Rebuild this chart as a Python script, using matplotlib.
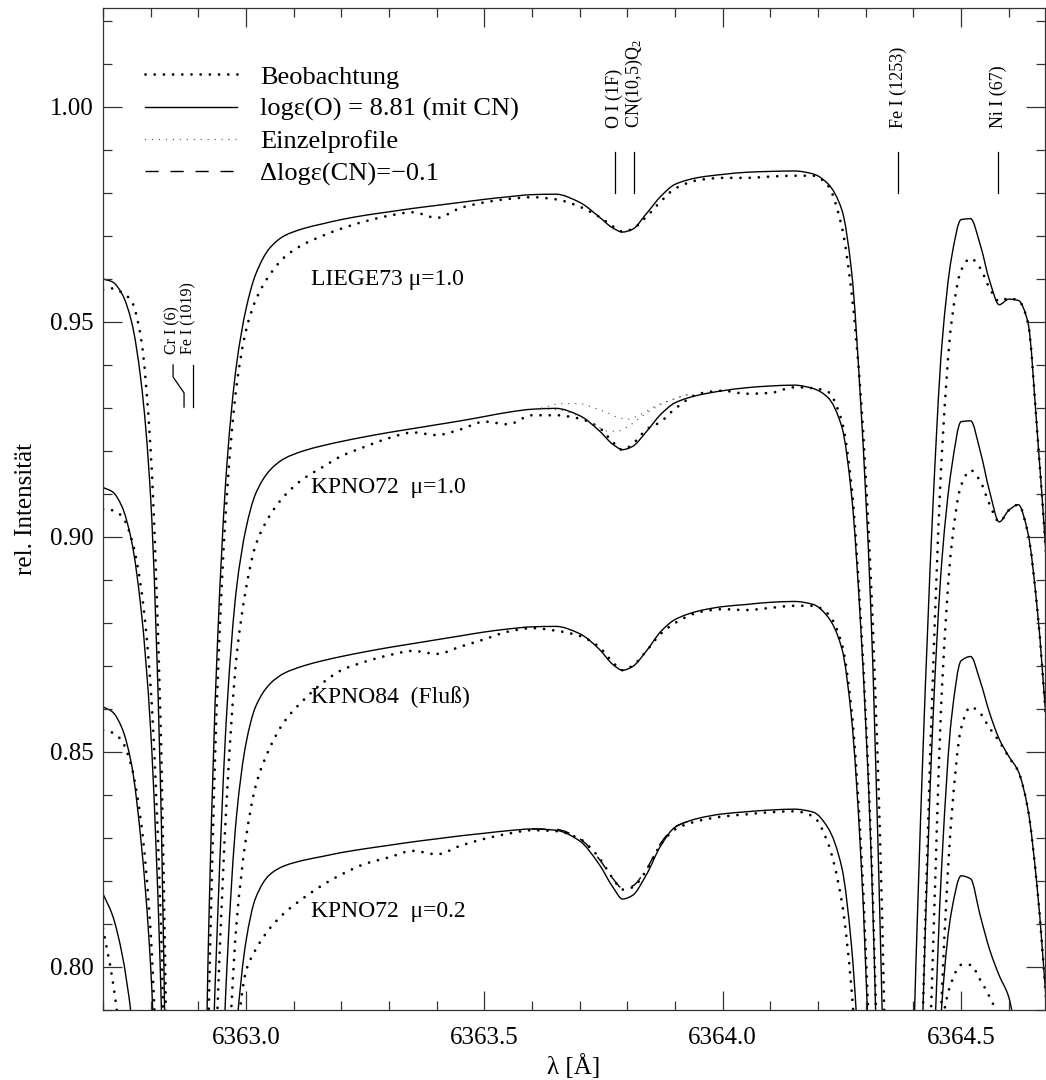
import matplotlib
matplotlib.use("Agg")
import numpy as np
import matplotlib.pyplot as plt
from matplotlib.path import Path
from matplotlib.patches import PathPatch
from matplotlib.lines import Line2D
from matplotlib.ticker import MultipleLocator, FormatStrFormatter

plt.rcParams['font.family'] = ['Liberation Serif', 'DejaVu Serif']
plt.rcParams['mathtext.fontset'] = 'custom'
plt.rcParams['mathtext.rm'] = 'Liberation Serif'
plt.rcParams['mathtext.it'] = 'Liberation Serif:italic'

# wavelength grid shared by all spectra [Angstrom]
wl = [6362.70, 6362.72, 6362.74, 6362.76, 6362.78, 6362.80, 6362.82, 6362.84,
      6362.87, 6362.90, 6362.92, 6362.94, 6362.96, 6362.98, 6363.00, 6363.02,
      6363.05, 6363.08, 6363.12, 6363.16, 6363.20, 6363.25, 6363.30, 6363.35,
      6363.40, 6363.45, 6363.50, 6363.55, 6363.60, 6363.65, 6363.70, 6363.74,
      6363.77, 6363.79, 6363.81, 6363.84, 6363.87, 6363.90, 6363.95, 6364.00,
      6364.05, 6364.10, 6364.15, 6364.19, 6364.22, 6364.25, 6364.27, 6364.29,
      6364.31, 6364.33, 6364.35, 6364.37, 6364.40, 6364.42, 6364.44, 6364.46,
      6364.48, 6364.50, 6364.52, 6364.54, 6364.56, 6364.58, 6364.60, 6364.62,
      6364.64, 6364.66, 6364.68, 6364.70]

# LIEGE73, mu = 1.0
liege73_obs = [0.9575, 0.9578, 0.9568, 0.9548, 0.9460, 0.9200, 0.8600, 0.7400,
               0.6000, 0.6300, 0.7800, 0.8650, 0.9100, 0.9350, 0.9480, 0.9550,
               0.9610, 0.9650, 0.9680, 0.9700, 0.9717, 0.9734, 0.9747, 0.9755,
               0.9742, 0.9765, 0.9778, 0.9786, 0.9790, 0.9785, 0.9768, 0.9745,
               0.9722, 0.9710, 0.9716, 0.9745, 0.9780, 0.9810, 0.9830, 0.9835,
               0.9835, 0.9838, 0.9840, 0.9840, 0.9818, 0.9720, 0.9570, 0.9320,
               0.8920, 0.8300, 0.7300, 0.6200, 0.6800, 0.7900, 0.8650, 0.9200,
               0.9500, 0.9620, 0.9648, 0.9625, 0.9578, 0.9548, 0.9555, 0.9550,
               0.9500, 0.9240, 0.8930, 0.8600]
liege73_mod = [0.9600, 0.9593, 0.9565, 0.9500, 0.9360, 0.9090, 0.8450, 0.7200,
               0.6000, 0.6400, 0.8000, 0.8750, 0.9170, 0.9400, 0.9530, 0.9610,
               0.9672, 0.9700, 0.9717, 0.9728, 0.9738, 0.9748, 0.9756, 0.9764,
               0.9771, 0.9778, 0.9785, 0.9791, 0.9796, 0.9797, 0.9778, 0.9745,
               0.9718, 0.9709, 0.9715, 0.9752, 0.9792, 0.9820, 0.9836, 0.9843,
               0.9848, 0.9850, 0.9851, 0.9844, 0.9822, 0.9760, 0.9620, 0.9300,
               0.8850, 0.8100, 0.7100, 0.6200, 0.7800, 0.8500, 0.9050, 0.9450,
               0.9650, 0.9738, 0.9740, 0.9680, 0.9595, 0.9540, 0.9553, 0.9550,
               0.9500, 0.9240, 0.8930, 0.8600]

# KPNO72, mu = 1.0
kpno72_obs = [0.9065, 0.9062, 0.9048, 0.8995, 0.8880, 0.8650, 0.8150, 0.7200,
              0.6000, 0.6000, 0.7200, 0.7900, 0.8400, 0.8720, 0.8880, 0.8980,
              0.9050, 0.9095, 0.9135, 0.9162, 0.9188, 0.9210, 0.9230, 0.9243,
              0.9237, 0.9250, 0.9268, 0.9262, 0.9283, 0.9283, 0.9275, 0.9255,
              0.9220, 0.9202, 0.9215, 0.9250, 0.9268, 0.9298, 0.9333, 0.9340,
              0.9333, 0.9335, 0.9348, 0.9346, 0.9338, 0.9268, 0.9120, 0.8800,
              0.8320, 0.7550, 0.6700, 0.6000, 0.6500, 0.7300, 0.8000, 0.8650,
              0.8980, 0.9120, 0.9155, 0.9130, 0.9075, 0.9035, 0.9062, 0.9075,
              0.9010, 0.8830, 0.8550, 0.8250]
kpno72_mod = [0.9115, 0.9105, 0.9070, 0.8990, 0.8830, 0.8550, 0.8000, 0.7000,
              0.6000, 0.6200, 0.7400, 0.8100, 0.8600, 0.8880, 0.9020, 0.9100,
              0.9155, 0.9182, 0.9200, 0.9212, 0.9222, 0.9233, 0.9243, 0.9252,
              0.9261, 0.9270, 0.9280, 0.9290, 0.9297, 0.9299, 0.9282, 0.9248,
              0.9215, 0.9203, 0.9210, 0.9245, 0.9285, 0.9312, 0.9330, 0.9340,
              0.9347, 0.9351, 0.9353, 0.9345, 0.9325, 0.9255, 0.9100, 0.8780,
              0.8300, 0.7500, 0.6600, 0.6000, 0.7000, 0.7900, 0.8550, 0.8950,
              0.9160, 0.9268, 0.9270, 0.9200, 0.9105, 0.9035, 0.9062, 0.9075,
              0.9010, 0.8830, 0.8550, 0.8250]

# KPNO84, disk-integrated flux
kpno84_obs = [0.8550, 0.8545, 0.8525, 0.8465, 0.8335, 0.8080, 0.7500, 0.6600,
              0.6000, 0.6000, 0.6400, 0.7200, 0.7700, 0.8100, 0.8300, 0.8420,
              0.8510, 0.8570, 0.8620, 0.8660, 0.8690, 0.8710, 0.8725, 0.8735,
              0.8728, 0.8745, 0.8762, 0.8780, 0.8788, 0.8782, 0.8770, 0.8745,
              0.8708, 0.8690, 0.8700, 0.8735, 0.8775, 0.8800, 0.8825, 0.8832,
              0.8830, 0.8835, 0.8840, 0.8840, 0.8822, 0.8750, 0.8600, 0.8280,
              0.7750, 0.7050, 0.6200, 0.6000, 0.6000, 0.6600, 0.7300, 0.7950,
              0.8350, 0.8555, 0.8605, 0.8590, 0.8555, 0.8525, 0.8488, 0.8455,
              0.8368, 0.8180, 0.7900, 0.7600]
kpno84_mod = [0.8605, 0.8593, 0.8555, 0.8470, 0.8290, 0.8000, 0.7400, 0.6600,
              0.6000, 0.6000, 0.6600, 0.7400, 0.8000, 0.8350, 0.8520, 0.8605,
              0.8658, 0.8683, 0.8700, 0.8712, 0.8722, 0.8733, 0.8743, 0.8752,
              0.8761, 0.8770, 0.8779, 0.8786, 0.8791, 0.8792, 0.8775, 0.8740,
              0.8703, 0.8690, 0.8698, 0.8735, 0.8780, 0.8808, 0.8828, 0.8838,
              0.8843, 0.8848, 0.8850, 0.8843, 0.8815, 0.8740, 0.8580, 0.8250,
              0.7700, 0.7000, 0.6200, 0.6000, 0.6200, 0.7000, 0.7700, 0.8250,
              0.8580, 0.8712, 0.8722, 0.8665, 0.8590, 0.8530, 0.8490, 0.8455,
              0.8368, 0.8180, 0.7900, 0.7600]

# KPNO72, mu = 0.2
kpno72l_obs = [0.8090, 0.7970, 0.7800, 0.7600, 0.7300, 0.7000, 0.6500, 0.6000,
               0.6000, 0.6000, 0.6200, 0.6800, 0.7400, 0.7820, 0.7990, 0.8040,
               0.8090, 0.8125, 0.8160, 0.8190, 0.8215, 0.8240, 0.8255, 0.8270,
               0.8262, 0.8282, 0.8298, 0.8310, 0.8318, 0.8316, 0.8298, 0.8255,
               0.8205, 0.8180, 0.8185, 0.8225, 0.8285, 0.8320, 0.8340, 0.8350,
               0.8355, 0.8360, 0.8362, 0.8350, 0.8290, 0.8150, 0.7950, 0.7600,
               0.7200, 0.6600, 0.6000, 0.6000, 0.6000, 0.6200, 0.7000, 0.7860,
               0.7965, 0.8005, 0.8005, 0.7970, 0.7930, 0.7880, 0.7800, 0.7600,
               0.7400, 0.7200, 0.7000, 0.6700]
kpno72l_mod = [0.8170, 0.8120, 0.8030, 0.7880, 0.7600, 0.7200, 0.6600, 0.6000,
               0.6000, 0.6000, 0.6200, 0.6800, 0.7400, 0.7850, 0.8060, 0.8160,
               0.8215, 0.8235, 0.8248, 0.8257, 0.8266, 0.8275, 0.8283, 0.8291,
               0.8298, 0.8305, 0.8311, 0.8317, 0.8321, 0.8318, 0.8293, 0.8240,
               0.8185, 0.8158, 0.8166, 0.8215, 0.8282, 0.8325, 0.8346, 0.8356,
               0.8361, 0.8365, 0.8367, 0.8360, 0.8325, 0.8230, 0.8050, 0.7700,
               0.7200, 0.6600, 0.6000, 0.6000, 0.6000, 0.6600, 0.7400, 0.7920,
               0.8130, 0.8212, 0.8205, 0.8120, 0.8040, 0.7980, 0.7930, 0.7800,
               0.7600, 0.7300, 0.7000, 0.6700]

# single-line profiles (KPNO72, mu = 1.0): CN alone and O I alone
single_wl = [6363.62, 6363.66, 6363.70, 6363.73, 6363.76, 6363.78, 6363.80,
             6363.83, 6363.86, 6363.89, 6363.93]
single_cn = [0.9300, 0.9310, 0.9310, 0.9300, 0.9288, 0.9278, 0.9274, 0.9286,
             0.9305, 0.9318, 0.9332]
single_oi = [0.9298, 0.9295, 0.9280, 0.9262, 0.9246, 0.9246, 0.9256, 0.9280,
             0.9302, 0.9318, 0.9332]

# KPNO72, mu = 0.2 with CN abundance lowered by 0.1 dex
cnlow_wl = [6363.60, 6363.65, 6363.70, 6363.74, 6363.77, 6363.79, 6363.81,
            6363.84, 6363.87, 6363.90, 6363.95]
cnlow_int = [0.8321, 0.8320, 0.8298, 0.8252, 0.8205, 0.8183, 0.8188, 0.8228,
             0.8288, 0.8326, 0.8346]

spectrum_names = ['LIEGE73 \u03bc=1.0', 'KPNO72  \u03bc=1.0',
                  'KPNO84  (Flu\u00df)', 'KPNO72  \u03bc=0.2']
spectrum_label_int = [0.9598, 0.9114, 0.8628, 0.8128]

# line identifications above the continuum
line_ids = ['O I (1F)', 'CN(10,5)Q$_2$', 'Fe I (1253)', 'Ni I (67)']
line_wl = [6363.773, 6363.814, 6364.368, 6364.578]
blend_ids = ['Cr I (6)', 'Fe I (1019)']
blend_wl = [6362.847, 6362.889]
blend_label_wl = [6362.845, 6362.8795]
cr_shift_wl = 6362.870

legend_labels = ['Beobachtung', 'log\u03b5(O) = 8.81 (mit CN)',
                 'Einzelprofile', '\u0394log\u03b5(CN)=\u22120.1']

xlim = (6362.70, 6364.676)
ylim = (0.790, 1.023)


def smooth_path(x, y):
    """Monotone cubic (PCHIP) curve through the points as a Bezier path."""
    x = np.asarray(x, float)
    y = np.asarray(y, float)
    h = np.diff(x)
    d = np.diff(y) / h
    m = np.empty_like(y)
    m[0], m[-1] = d[0], d[-1]
    for k in range(1, len(x) - 1):
        if d[k - 1] * d[k] <= 0:
            m[k] = 0.0
        else:
            w1 = 2 * h[k] + h[k - 1]
            w2 = h[k] + 2 * h[k - 1]
            m[k] = (w1 + w2) / (w1 / d[k - 1] + w2 / d[k])
    verts = [(x[0], y[0])]
    codes = [Path.MOVETO]
    for k in range(len(x) - 1):
        verts += [(x[k] + h[k] / 3, y[k] + m[k] * h[k] / 3),
                  (x[k + 1] - h[k] / 3, y[k + 1] - m[k + 1] * h[k] / 3),
                  (x[k + 1], y[k + 1])]
        codes += [Path.CURVE4] * 3
    return Path(verts, codes)


def draw(ax, x, y, style):
    patch = PathPatch(smooth_path(x, y), fill=False, **style)
    ax.add_patch(patch)
    return patch


fig = plt.figure(figsize=(10.46, 10.80), dpi=100)
ax = fig.add_axes([103 / 1046, 1 - 1010 / 1080, 942 / 1046, 1002 / 1080])

obs_kw = dict(edgecolor='black', lw=2.0, linestyle=(0, (0.01, 3.3)),
              capstyle='round')
mod_kw = dict(edgecolor='black', lw=1.0, joinstyle='round')
single_kw = dict(edgecolor='0.3', lw=1.0, linestyle=(0, (0.01, 5.0)),
                 capstyle='round')
dash_kw = dict(edgecolor='black', lw=1.0, linestyle=(0, (9.5, 8.5)))

pairs = [(liege73_obs, liege73_mod), (kpno72_obs, kpno72_mod),
         (kpno84_obs, kpno84_mod), (kpno72l_obs, kpno72l_mod)]
for obs, mod in pairs:
    draw(ax, wl, mod, mod_kw)
    draw(ax, wl, obs, obs_kw)

draw(ax, single_wl, single_cn, single_kw)
draw(ax, single_wl, single_oi, single_kw)
draw(ax, cnlow_wl, cnlow_int, dash_kw)

handles = [
    Line2D([], [], color='black', lw=2.0, linestyle=(0, (0.01, 3.3)),
           dash_capstyle='round'),
    Line2D([], [], color='black', lw=1.0),
    Line2D([], [], color='0.3', lw=1.0, linestyle=(0, (0.01, 5.0)),
           dash_capstyle='round'),
    Line2D([], [], color='black', lw=1.0, linestyle=(0, (9.5, 8.5))),
]
ax.legend(handles, legend_labels, loc='upper left',
          bbox_to_anchor=(0.0446, 0.943), frameon=False, fontsize=19,
          handlelength=3.5, handletextpad=0.85, labelspacing=0.33,
          borderpad=0.0, borderaxespad=0.0)

for name, yv in zip(spectrum_names, spectrum_label_int):
    ax.text(6363.136, yv, name, fontsize=17, ha='left', va='center')

# identification ticks and labels
for name, lw_ in zip(line_ids, line_wl):
    ax.plot([lw_, lw_], [0.9800, 0.9895], color='black', lw=0.9)
    ax.text(lw_, 0.9952, name, rotation=90, fontsize=13, ha='center',
            va='bottom')

ax.plot([blend_wl[0], blend_wl[0], cr_shift_wl, cr_shift_wl],
        [0.9400, 0.9372, 0.9335, 0.9302], color='black', lw=0.9)
ax.plot([blend_wl[1], blend_wl[1]], [0.9400, 0.9302], color='black', lw=0.9)
for name, xv in zip(blend_ids, blend_label_wl):
    ax.text(xv, 0.9425, name, rotation=90, fontsize=11.5, ha='center',
            va='bottom')

ax.set_xlim(*xlim)
ax.set_ylim(*ylim)
ax.xaxis.set_major_locator(MultipleLocator(0.5))
ax.xaxis.set_minor_locator(MultipleLocator(0.1))
ax.yaxis.set_major_locator(MultipleLocator(0.05))
ax.yaxis.set_minor_locator(MultipleLocator(0.01))
ax.xaxis.set_major_formatter(FormatStrFormatter('%.1f'))
ax.yaxis.set_major_formatter(FormatStrFormatter('%.2f'))
ax.tick_params(which='both', direction='in', top=True, right=True,
               colors='#333333', labelcolor='black', labelsize=18)
ax.tick_params(which='major', length=13.5, width=0.9, pad=7)
ax.tick_params(which='minor', length=6.8, width=0.9)
ax.tick_params(axis='x', which='major', pad=12)
for sp in ax.spines.values():
    sp.set_linewidth(0.9)
    sp.set_color('#333333')

ax.set_xlabel('\u03bb [\u00c5]', fontsize=18, labelpad=4)
ax.set_ylabel('rel. Intensit\u00e4t', fontsize=18, labelpad=9)

fig.savefig('out.png', dpi=100)
